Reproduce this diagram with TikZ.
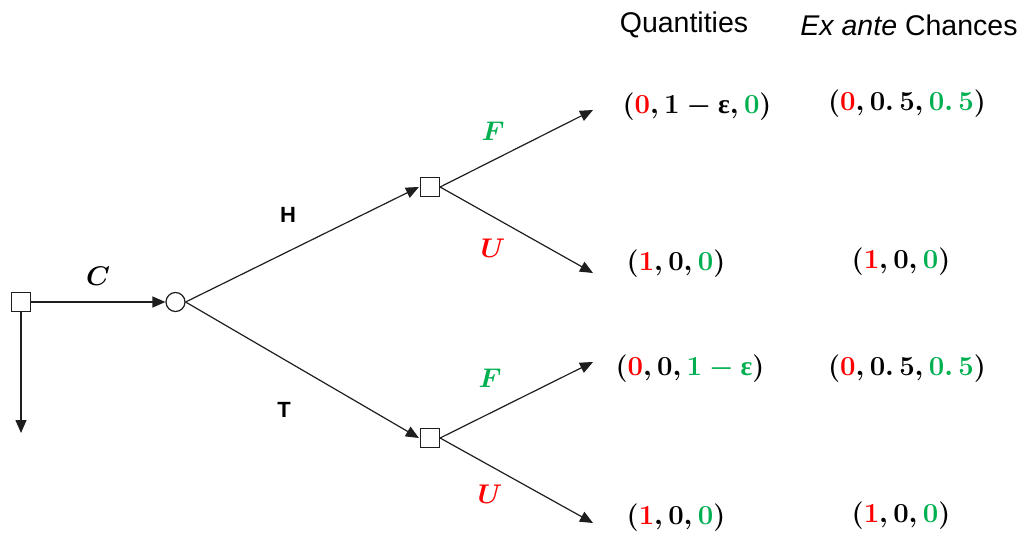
\documentclass[tikz,border=0pt]{standalone}
\usepackage{fix-cm}
\usepackage{amsmath,bm}
\usepackage{fontspec}
\usetikzlibrary{arrows.meta}
\newfontfamily\arialf{Liberation Sans}
\newfontfamily\serifg{Liberation Serif}
\definecolor{myred}{RGB}{255,0,0}
\definecolor{mygreen}{RGB}{0,176,80}
\definecolor{lineg}{RGB}{30,30,30}
\newcommand{\Rd}[1]{\textcolor{myred}{#1}}
\newcommand{\Gr}[1]{\textcolor{mygreen}{#1}}
\newcommand{\eps}{\text{\serifg\bfseries ε}}
\newcommand{\hlf}{0.\mskip3mu 5}
\begin{document}
\begin{tikzpicture}[x=1pt,y=-1pt,
  decision/.style={draw=lineg,line width=1.2pt,fill=white,minimum size=19pt,inner sep=0pt},
  chance/.style={draw=lineg,line width=1.2pt,fill=white,circle,minimum size=19pt,inner sep=0pt},
  arr/.style={draw=lineg,line width=1.2pt,-{Triangle[length=13pt,width=11pt]}},
  hdr/.style={font=\arialf\fontsize{28.5}{32}\selectfont,inner sep=0pt},
  val/.style={font=\fontsize{27.5}{30}\selectfont\boldmath,inner sep=0pt},
  lbl/.style={font=\fontsize{27}{30}\selectfont\boldmath,inner sep=0pt},
  hl/.style={font=\arialf\bfseries\fontsize{22}{26}\selectfont,inner sep=0pt}]
\useasboundingbox (0,0) rectangle (1019,533);
% nodes
\node[decision] (root) at (21,302) {};
\node[chance] (ch) at (175.5,302) {};
\node[decision] (up) at (430,187) {};
\node[decision] (lo) at (430,438) {};
\coordinate (down) at (21,433);
\coordinate (uF) at (593,110);
\coordinate (uU) at (593,273);
\coordinate (lF) at (593,362);
\coordinate (lU) at (593,523);
% connectors
\draw[arr] (root.south) -- (down);
\draw[arr] (root.east) -- (ch.west);
\draw[arr] (ch.east) -- ([xshift=-1pt]up.west);
\draw[arr] (ch.east) -- ([xshift=-1pt]lo.west);
\draw[arr] (up.east) -- (uF);
\draw[arr] (up.east) -- (uU);
\draw[arr] (lo.east) -- (lF);
\draw[arr] (lo.east) -- (lU);
% labels
\node[lbl] (lC) at (98,276) {$\boldsymbol{C}$};
\node[hl] (lH) at (288,215) {H};
\node[hl] (lT) at (284,410) {T};
\node[lbl] (lF1) at (493,131) {$\Gr{\boldsymbol{F}}$};
\node[lbl] (lU1) at (493,248) {$\Rd{\boldsymbol{U}}$};
\node[lbl] (lF2) at (490,378) {$\Gr{\boldsymbol{F}}$};
\node[lbl] (lU2) at (490,494) {$\Rd{\boldsymbol{U}}$};
% headers
\node[hdr] (hq) at (684,25) {Quantities};
\node[hdr] (he) at (909,25) {\itshape Ex ante\upshape{} Chances};
% values
\node[val] (q1) at (697,107) {$(\Rd{0}, 1-\eps, \Gr{0})$};
\node[val] (e1) at (907,104) {$(\Rd{0}, \hlf, \Gr{\hlf})$};
\node[val] (q2) at (676,264) {$(\Rd{1}, 0, \Gr{0})$};
\node[val] (e2) at (901,262) {$(\Rd{1}, 0, \Gr{0})$};
\node[val] (q3) at (690,369) {$(\Rd{0}, 0, \Gr{1-\eps})$};
\node[val] (e3) at (907,369) {$(\Rd{0}, \hlf, \Gr{\hlf})$};
\node[val] (q4) at (676,518) {$(\Rd{1}, 0, \Gr{0})$};
\node[val] (e4) at (901,516) {$(\Rd{1}, 0, \Gr{0})$};
\end{tikzpicture}
\end{document}
